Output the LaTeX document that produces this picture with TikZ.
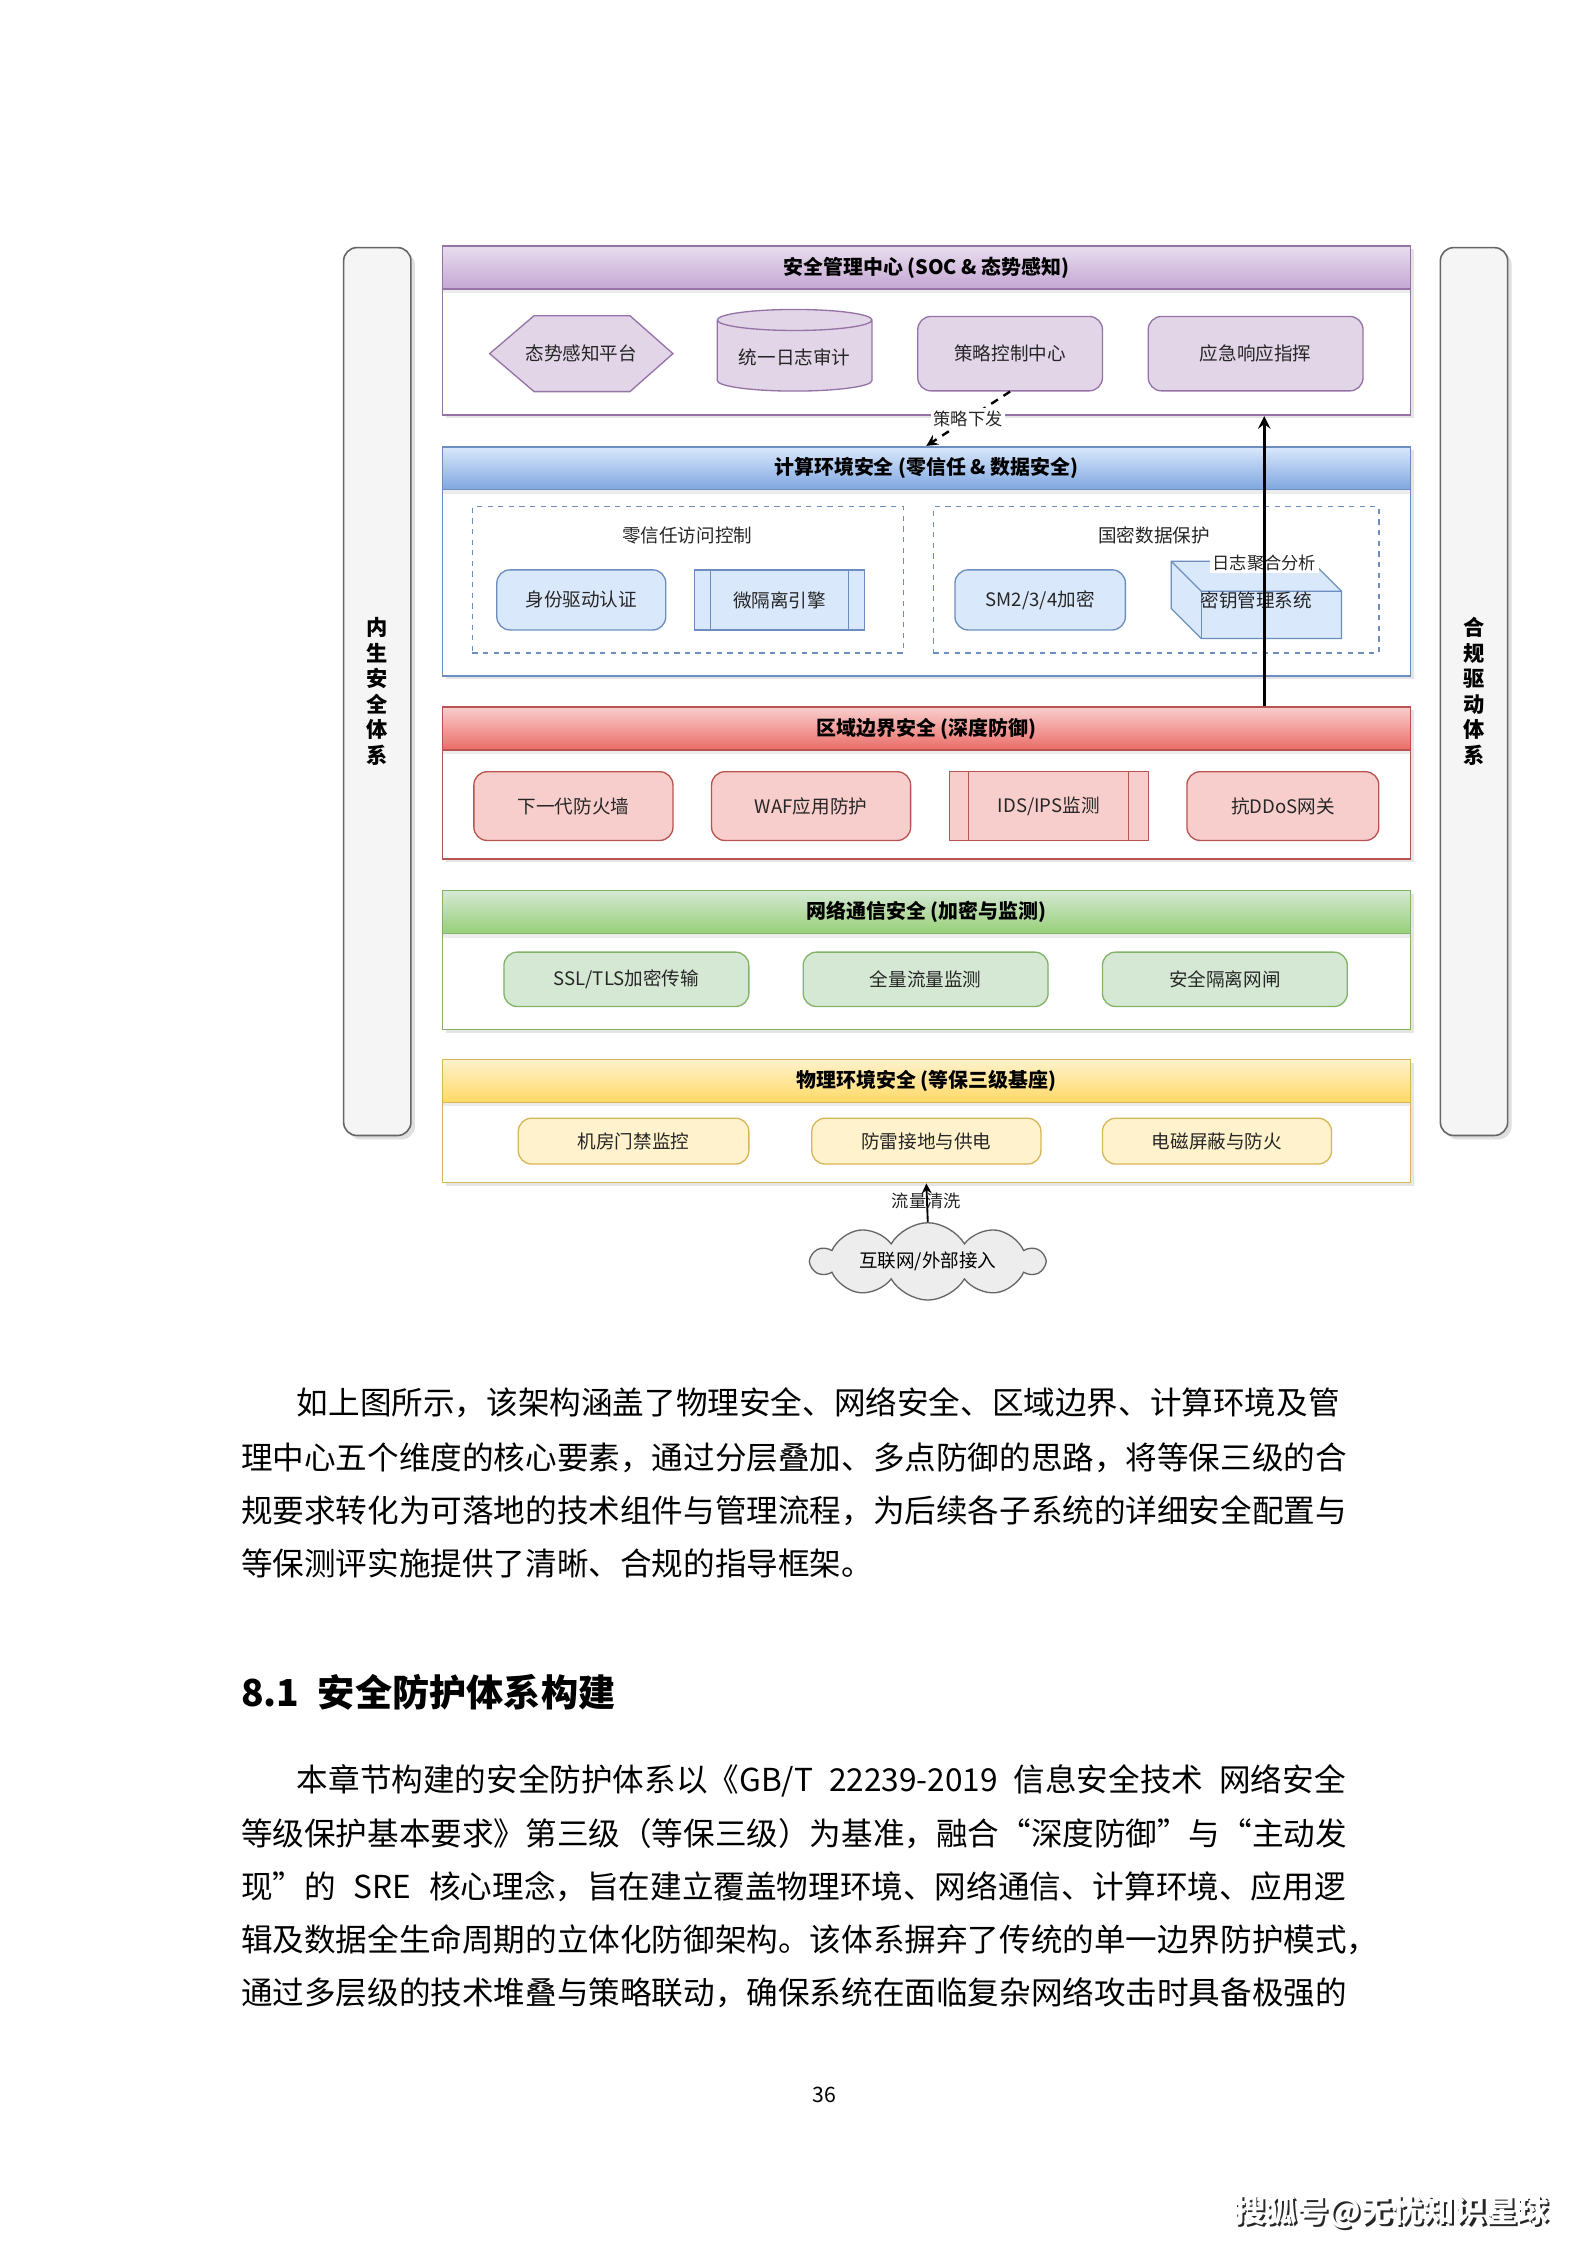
\documentclass[tikz,border=0pt]{standalone}
\usepackage{fontspec}
\setmainfont{Noto Sans CJK SC}
\usetikzlibrary{shapes.geometric, shapes.symbols, shadows, calc}

\XeTeXlinebreaklocale "zh"
\XeTeXlinebreakskip=0pt plus 4pt

\newdimen\pxu
\pxu=0.5393pt

\definecolor{purpline}{HTML}{9673A6}
\definecolor{purpfill}{HTML}{E1D5E7}
\definecolor{purptop}{HTML}{E8DDEE}
\definecolor{purpdark}{HTML}{C4A6D4}
\definecolor{blueline}{HTML}{6C8EBF}
\definecolor{bluefill}{HTML}{DAE8FC}
\definecolor{bluedark}{HTML}{7EA6E0}
\definecolor{redline}{HTML}{B85450}
\definecolor{redfill}{HTML}{F8CECC}
\definecolor{reddark}{HTML}{EA6B66}
\definecolor{grnline}{HTML}{82B366}
\definecolor{grnfill}{HTML}{D5E8D4}
\definecolor{grndark}{HTML}{97D077}
\definecolor{yelline}{HTML}{D6B656}
\definecolor{yelfill}{HTML}{FFF2CC}
\definecolor{yeldark}{HTML}{FFD966}
\definecolor{pillfill}{HTML}{F5F5F5}
\definecolor{pillline}{HTML}{666666}

\tikzset{
  sz/.style 2 args={minimum width=#1\pxu, minimum height=#2\pxu},
  layer/.style={draw=#1, fill=white, line width=0.6pt, inner sep=0pt,
    drop shadow={opacity=0.2, shadow xshift=1.2pt, shadow yshift=-1.2pt}},
  bandhead/.style n args={3}{draw=#1, top color=#2, bottom color=#3, line width=0.6pt,
    inner sep=0pt, font=\bfseries\fontsize{7.5}{9}\selectfont,
    drop shadow={opacity=0.15, shadow xshift=0pt, shadow yshift=-1.5pt}},
  item/.style 2 args={draw=#1, fill=#2, line width=0.5pt, rounded corners=5pt,
    inner sep=1pt, font=\fontsize{7}{8}\selectfont, text=black!85},
  grpbox/.style={draw=blueline, dash pattern=on 2pt off 2pt, line width=0.5pt},
  grplbl/.style={font=\fontsize{7}{8}\selectfont, text=black!85},
  pillar/.style={draw=pillline, fill=pillfill, rounded corners=5pt, line width=0.6pt,
    sz={47}{620}, align=center, font=\bfseries\fontsize{8}{9.6}\selectfont,
    drop shadow={opacity=0.25, shadow xshift=1.5pt, shadow yshift=-1.5pt}},
  edgelbl/.style={fill=white, inner sep=1pt, font=\fontsize{6.5}{7}\selectfont, text=black!85},
  bodyline/.style={anchor=west, inner sep=0pt, font=\fontsize{11.9}{14}\selectfont},
  sohu/.style={font=\bfseries\fontsize{11.8}{13}\selectfont}
}

\begin{document}
\begin{tikzpicture}[x=0.018953cm, y=-0.018953cm, >=stealth]
\useasboundingbox[fill=white] (0,0) rectangle (1108,1568);

% 两侧支柱
\node[pillar] (inner) at (263.5,483) {内\\生\\安\\全\\体\\系};
\node[pillar] (comply) at (1029.5,483) {合\\规\\驱\\动\\体\\系};

% 安全管理中心
\node[layer=purpline, sz={676}{118}] (soc) at (647,231) {};
\node[bandhead={purpline}{purptop}{purpdark}, sz={676}{30}] (soch) at (647,187) {安全管理中心 (SOC \& 态势感知)};
\coordinate (situc) at (406,247);
\filldraw[shift={(situc)}, draw=purpline, fill=purpfill, line width=0.5pt]
  (-64,0) -- (-33,-26.5) -- (34,-26.5) -- (64,0) -- (34,26.5) -- (-33,26.5) -- cycle;
\node[grplbl] (situ) at (situc) {态势感知平台};
\node[item={purpline}{purpfill}, shape=cylinder, shape border rotate=90, aspect=0.18,
  sharp corners, sz={108}{57}] (logaudit) at (555,249.5) {统一日志审计};
\node[item={purpline}{purpfill}, sz={129}{52}] (policy) at (705.5,247) {策略控制中心};
\node[item={purpline}{purpfill}, sz={150}{52}] (emerg) at (877,247) {应急响应指挥};

% 计算环境安全
\node[layer=blueline, sz={676}{160}] (cmp) at (647,392) {};
\node[bandhead={blueline}{bluefill}{bluedark}, sz={676}{30}] (cmph) at (647,327) {计算环境安全 (零信任 \& 数据安全)};
\node[grpbox, sz={301}{102}] (ztgrp) at (480.5,405) {};
\node[grplbl] (ztlbl) at (480,374) {零信任访问控制};
\node[grpbox, sz={311}{102}] (gmgrp) at (807.5,405) {};
\node[grplbl] (gmlbl) at (806,374) {国密数据保护};
\node[item={blueline}{bluefill}, sz={118}{42}] (idauth) at (406,419) {身份驱动认证};
\node[item={blueline}{bluefill}, sharp corners, sz={119}{42}] (microseg) at (544.5,419) {微隔离引擎};
\draw[blueline] ($(microseg.north west)!0.1!(microseg.north east)$) -- ($(microseg.south west)!0.1!(microseg.south east)$);
\draw[blueline] ($(microseg.north east)!0.1!(microseg.north west)$) -- ($(microseg.south east)!0.1!(microseg.south west)$);
\node[item={blueline}{bluefill}, sz={119}{42}] (smenc) at (726.5,419) {SM2/3/4加密};
\coordinate (keyc) at (877.5,419);
\begin{scope}[shift={(keyc)}, draw=blueline, line width=0.5pt]
  \filldraw[fill=bluefill] (-59.5,-27) -- (38.5,-27) -- (59.5,-6) -- (59.5,27) -- (-38.5,27) -- (-59.5,6) -- cycle;
  \draw (-59.5,-27) -- (-38.5,-6) -- (59.5,-6);
  \draw (-38.5,-6) -- (-38.5,27);
\end{scope}
\node[grplbl] (keysys) at (keyc) {密钥管理系统};

% 区域边界安全
\node[layer=redline, sz={676}{106}] (bdr) at (647,547) {};
\node[bandhead={redline}{redfill}{reddark}, sz={676}{30}] (bdrh) at (647,509) {区域边界安全 (深度防御)};
\node[item={redline}{redfill}, sz={139}{48}] (ngfw) at (400.5,563) {下一代防火墙};
\node[item={redline}{redfill}, sz={139}{48}] (waf) at (566.5,563) {WAF应用防护};
\node[item={redline}{redfill}, sharp corners, sz={139}{48}] (idsips) at (732.5,563) {IDS/IPS监测};
\draw[redline] ($(idsips.north west)!0.1!(idsips.north east)$) -- ($(idsips.south west)!0.1!(idsips.south east)$);
\draw[redline] ($(idsips.north east)!0.1!(idsips.north west)$) -- ($(idsips.south east)!0.1!(idsips.south west)$);
\node[item={redline}{redfill}, sz={134}{48}] (antiddos) at (896,563) {抗DDoS网关};

% 网络通信安全
\node[layer=grnline, sz={676}{97}] (net) at (647,670.5) {};
\node[bandhead={grnline}{grnfill}{grndark}, sz={676}{30}] (neth) at (647,637) {网络通信安全 (加密与监测)};
\node[item={grnline}{grnfill}, sz={171}{38}] (ssltls) at (437.5,684) {SSL/TLS加密传输};
\node[item={grnline}{grnfill}, sz={171}{38}] (fullflow) at (646.5,684) {全量流量监测};
\node[item={grnline}{grnfill}, sz={171}{38}] (isogap) at (855.5,684) {安全隔离网闸};

% 物理环境安全
\node[layer=yelline, sz={676}{86}] (phy) at (647,783) {};
\node[bandhead={yelline}{yelfill}{yeldark}, sz={676}{30}] (phyh) at (647,755) {物理环境安全 (等保三级基座)};
\node[item={yelline}{yelfill}, sz={161}{32}] (roomacc) at (442.5,797) {机房门禁监控};
\node[item={yelline}{yelfill}, sz={160}{32}] (lightning) at (647,797) {防雷接地与供电};
\node[item={yelline}{yelfill}, sz={160}{32}] (emshield) at (850,797) {电磁屏蔽与防火};

% 外部接入
\node[cloud, draw=pillline, fill=black!7, line width=0.5pt, cloud puffs=10, cloud puff arc=120,
  cloud ignores aspect, inner sep=0pt, sz={162}{54}, font=\fontsize{7}{8}\selectfont] (inet) at (648,881) {互联网/外部接入};

% 连线
\draw[dash pattern=on 3pt off 2.5pt, line width=0.9pt, ->] (policy.south) -- node[edgelbl] (polbl) {策略下发} (cmp.north);
\node[edgelbl] (agglbl) at (883,393) {日志聚合分析};
\draw[line width=1.1pt, ->] (bdr.north -| agglbl) -- (soc.south -| agglbl);
\node[edgelbl] (washlbl) at (647,839) {流量清洗};
\draw[line width=0.7pt, ->] (inet.north) -- (phy.south);

% 正文
\node[bodyline] (p1a) at (207,980) {\hbox to 395pt{如上图所示，该架构涵盖了物理安全、网络安全、区域边界、计算环境及管}};
\node[bodyline] (p1b) at (168,1018) {\hbox to 416pt{理中心五个维度的核心要素，通过分层叠加、多点防御的思路，将等保三级的合}};
\node[bodyline] (p1c) at (168,1055) {\hbox to 416pt{规要求转化为可落地的技术组件与管理流程，为后续各子系统的详细安全配置与}};
\node[bodyline] (p1d) at (168,1092) {等保测评实施提供了清晰、合规的指导框架。};
\node[anchor=west, inner sep=0pt, font=\bfseries\fontsize{14}{17}\selectfont] (sec) at (168,1182) {8.1\hspace{0.5em}安全防护体系构建};
\node[bodyline] (p2a) at (207,1244) {\hbox to 395pt{本章节构建的安全防护体系以《GB/T 22239-2019 信息安全技术 网络安全}};
\node[bodyline] (p2b) at (168,1281) {\hbox to 416pt{等级保护基本要求》第三级（等保三级）为基准，融合“深度防御”与“主动发}};
\node[bodyline] (p2c) at (168,1318) {\hbox to 416pt{现”的 SRE 核心理念，旨在建立覆盖物理环境、网络通信、计算环境、应用逻}};
\node[bodyline] (p2d) at (168,1355) {\hbox to 420pt{辑及数据全生命周期的立体化防御架构。该体系摒弃了传统的单一边界防护模式，}};
\node[bodyline] (p2e) at (168,1392) {\hbox to 416pt{通过多层级的技术堆叠与策略联动，确保系统在面临复杂网络攻击时具备极强的}};

% 页码与水印
\node[font=\fontsize{8}{9}\selectfont] (pgnum) at (576,1463) {36};
\node[sohu, text=black!85] (sohush) at (973.5,1546.5) {搜狐号@无忧知识星球};
\node[sohu, text=white] (sohutxt) at (972,1545) {搜狐号@无忧知识星球};
\end{tikzpicture}
\end{document}
